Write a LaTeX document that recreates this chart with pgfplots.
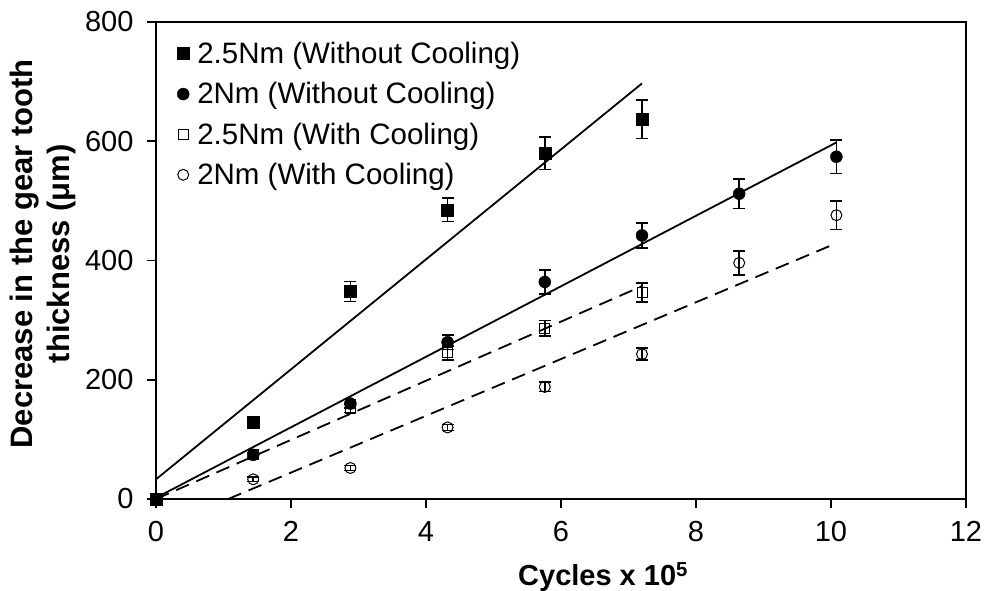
\documentclass[border=0pt]{standalone}
\usepackage{fontspec}
\setmainfont{Liberation Sans}
\usepackage{pgfplots}
\usepackage{pgfplotstable}
\pgfplotsset{compat=1.18}
\pgfplotstableread{
x y e
0 0 0
1.44 129 4
2.88 348 17
4.32 485 20
5.76 580 27
7.2 637 32
}\sA
\pgfplotstableread{
x y e
0 0 0
1.44 74 4
2.88 160 7
4.32 263 12
5.76 364 20
7.2 442 21
8.64 512 25
10.08 574 28
}\sB
\pgfplotstableread{
x y e
0 0 0
1.44 74 4
2.88 152 7
4.32 245 12
5.76 286 13
7.2 346 16
}\sC
\pgfplotstableread{
x y e
0 0 0
1.44 33 4
2.88 52 4
4.32 120 5
5.76 188 8
7.2 243 10
8.64 396 20
10.08 476 24
}\sD
\begin{document}
\begin{tikzpicture}
\begin{axis}[
 at={(0pt,0pt)}, anchor=south west,
 width=810pt, height=477pt, scale only axis,
 xmin=0, xmax=12, ymin=0, ymax=800,
 xtick={0,2,...,12}, ytick={0,200,...,800},
 tick align=outside, tick pos=left, major tick length=9pt,
 axis line style={line width=1.6pt},
 every tick/.style={line width=1.6pt, black},
 tick label style={font=\fontsize{29}{31}\selectfont},
 xticklabel style={yshift=-10pt},
 yticklabel style={xshift=-10pt},
 /pgf/number format/assume math mode=true,
 xlabel={\textbf{Cycles x 10\textsuperscript{5}}},
 xlabel style={font=\fontsize{29}{32}\selectfont, at={(axis description cs:0.552,-0.1635)}, anchor=center},
 ylabel={\textbf{Decrease in the gear tooth}\\\textbf{thickness (μm)}},
 ylabel style={font=\fontsize{31}{37}\selectfont, align=center, at={(axis description cs:-0.140,0.514)}, anchor=center},
 legend style={draw=none, fill=none, at={(axis description cs:0.026,0.958)}, anchor=north west,
   font=\fontsize{29.5}{31}\selectfont, row sep=17.5pt, inner sep=0pt,
   nodes={inner sep=0pt, inner xsep=8pt}},
 legend cell align=left,
 legend image code/.code={\draw[mark repeat=2, mark phase=2, #1] plot coordinates {(0pt,0pt) (5pt,0pt) (10pt,0pt)};},
 error bars/error bar style={line width=1.5pt, black},
 error bars/error mark options={rotate=90, mark size=6pt, line width=1.5pt, black},
]
\addplot[only marks, mark=square*, mark size=6pt, black,
  error bars/.cd, y dir=both, y explicit] table[x=x, y=y, y error=e]{\sA};
\addlegendentry{2.5Nm (Without Cooling)}
\addplot[only marks, mark=*, mark size=6pt, black,
  error bars/.cd, y dir=both, y explicit] table[x=x, y=y, y error=e]{\sB};
\addlegendentry{2Nm (Without Cooling)}
\addplot[only marks, mark=square, mark size=5pt, mark options={line width=1pt}, black,
  error bars/.cd, y dir=both, y explicit] table[x=x, y=y, y error=e]{\sC};
\addlegendentry{2.5Nm (With Cooling)}
\addplot[only marks, mark=o, mark size=5.5pt, mark options={line width=1pt}, black,
  error bars/.cd, y dir=both, y explicit] table[x=x, y=y, y error=e]{\sD};
\addlegendentry{2Nm (With Cooling)}
\addplot[forget plot, black, line width=1.8pt] coordinates {(0,33) (7.2,697)};
\addplot[forget plot, black, line width=1.8pt] coordinates {(0,2) (10.08,598)};
\addplot[forget plot, black, line width=1.8pt, dash pattern=on 14pt off 8pt] coordinates {(0,0) (7.2,357)};
\addplot[forget plot, black, line width=1.8pt, dash pattern=on 14pt off 8pt] coordinates {(1.07,0) (10.08,429)};
\end{axis}
\pgfresetboundingbox
\useasboundingbox (-156pt,-92pt) rectangle (833pt,499pt);
\end{tikzpicture}
\end{document}
